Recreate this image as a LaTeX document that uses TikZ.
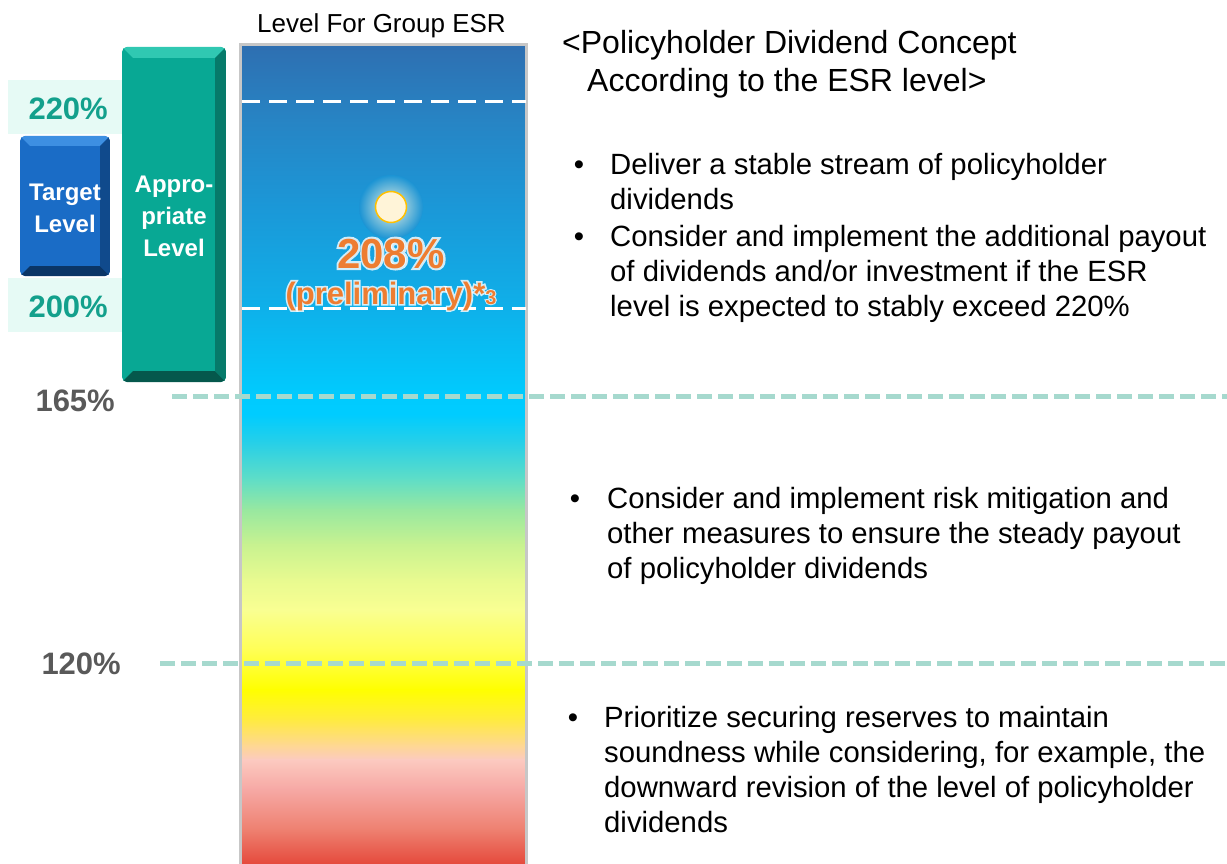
\documentclass[tikz,border=0pt]{standalone}
\usepackage{fontspec}
\setmainfont{Liberation Sans}
\newfontface\glowface[FakeBold=10]{Liberation Sans Bold}
\usetikzlibrary{calc}
\definecolor{bandc}{HTML}{E6FAF5}
\definecolor{tealtxt}{HTML}{13A08C}
\definecolor{greytxt}{HTML}{595959}
\definecolor{dashteal}{HTML}{A6D9CE}
\definecolor{orng}{HTML}{ED7D31}
\definecolor{sunfill}{HTML}{FFF4D8}
\definecolor{sunedge}{HTML}{FFC000}
\definecolor{glowin}{HTML}{EEF3E2}
\definecolor{glowout}{HTML}{1C94D4}
\definecolor{bmain}{HTML}{1A6CC6}
\definecolor{btop}{HTML}{3D8FE2}
\definecolor{bbot}{HTML}{0A3566}
\definecolor{bright}{HTML}{104A8C}
\definecolor{tmain}{HTML}{08A894}
\definecolor{ttop}{HTML}{30C8B2}
\definecolor{tbot}{HTML}{05584C}
\definecolor{tright}{HTML}{067A6A}
\definecolor{g01}{HTML}{2E6FB1}
\definecolor{g02}{HTML}{2784C4}
\definecolor{g03}{HTML}{1C96D6}
\definecolor{g04}{HTML}{10AEE8}
\definecolor{g05}{HTML}{00CBFE}
\definecolor{g06}{HTML}{00CCFF}
\definecolor{g07}{HTML}{2AD0E6}
\definecolor{g08}{HTML}{60DEC6}
\definecolor{g09}{HTML}{98E8A0}
\definecolor{g10}{HTML}{C8F290}
\definecolor{g11}{HTML}{E8FA90}
\definecolor{g12}{HTML}{F9FF92}
\definecolor{g13}{HTML}{FFFF55}
\definecolor{g14}{HTML}{FFFF00}
\definecolor{g15}{HTML}{FFEB40}
\definecolor{g16}{HTML}{FED890}
\definecolor{g17}{HTML}{FCCAC0}
\definecolor{g18}{HTML}{F6A8A4}
\definecolor{g19}{HTML}{EE8070}
\definecolor{g20}{HTML}{E54A3C}
\newcommand{\bevelbox}[9]{%
  \begin{scope}
    \clip[rounded corners=5] (#1,#2) rectangle (#3,#4);
    \fill[#6] (#1,#2) rectangle (#3,#4);
    \fill[#7] (#1,#2) -- (#3,#2) -- ({#3-#5},{#2+#5}) -- ({#1+#5},{#2+#5}) -- cycle;
    \fill[#8] (#1,#4) -- (#3,#4) -- ({#3-#5},{#4-#5}) -- ({#1+#5},{#4-#5}) -- cycle;
    \fill[#9] (#3,#2) -- (#3,#4) -- ({#3-#5},{#4-#5}) -- ({#3-#5},{#2+#5}) -- cycle;
  \end{scope}}
\newcommand{\gradseg}[4]{\shade[top color=#3, bottom color=#4] (242,#1) rectangle (526,#2);}
\tikzset{
  body/.style={font=\fontsize{29.3}{35}\selectfont, anchor=base west, inner sep=0pt},
  head/.style={font=\fontsize{32}{38}\selectfont, anchor=base west, inner sep=0pt},
  bul/.style={font=\fontsize{29.3}{35}\selectfont, anchor=base, inner sep=0pt},
  pct/.style={font=\fontsize{31}{35}\selectfont\bfseries, anchor=base east, inner sep=0pt},
  boxtxt/.style={font=\fontsize{24}{32}\selectfont\bfseries, text=white, align=center, inner sep=0pt},
  tdash/.style={dashteal, line width=5pt, dash pattern=on 15pt off 6pt},
  wdash/.style={white, line width=3pt, dash pattern=on 18pt off 9pt},
}
\begin{document}
\begin{tikzpicture}[x=1pt,y=-1pt]
\useasboundingbox (0,0) rectangle (1227,864);
% light bands behind the percentages
\fill[bandc] (8,80) rectangle (124,134);
\fill[bandc] (8,278) rectangle (124,332);
% beveled boxes
\bevelbox{20}{136}{110}{276}{10}{bmain}{btop}{bbot}{bright}
\bevelbox{122}{47}{226}{382}{11}{tmain}{ttop}{tbot}{tright}
\node[boxtxt] (target) at (65,208) {Target\\Level};
\node[boxtxt] (approp) at (174,216) {Appro-\\priate\\Level};
% percentages
\node[pct, text=tealtxt] (p220) at (108,120) {220\%};
\node[pct, text=tealtxt] (p200) at (108,317) {200\%};
\node[pct, text=greytxt] (p165) at (115,411) {165\%};
\node[pct, text=greytxt] (p120) at (121,674) {120\%};
% gradient bar
\gradseg{45}{120}{g01}{g02}
\gradseg{119.5}{200}{g02}{g03}
\gradseg{199.5}{300}{g03}{g04}
\gradseg{299.5}{395}{g04}{g05}
\gradseg{394.5}{415}{g05}{g06}
\gradseg{414.5}{445}{g06}{g07}
\gradseg{444.5}{480}{g07}{g08}
\gradseg{479.5}{510}{g08}{g09}
\gradseg{509.5}{545}{g09}{g10}
\gradseg{544.5}{580}{g10}{g11}
\gradseg{579.5}{610}{g11}{g12}
\gradseg{609.5}{650}{g12}{g13}
\gradseg{649.5}{690}{g13}{g14}
\gradseg{689.5}{720}{g14}{g15}
\gradseg{719.5}{745}{g15}{g16}
\gradseg{744.5}{760}{g16}{g17}
\gradseg{759.5}{790}{g17}{g18}
\gradseg{789.5}{830}{g18}{g19}
\gradseg{829.5}{864}{g19}{g20}
\draw[black!22, line width=3pt] (240.5,870) -- (240.5,44.5) -- (526.5,44.5) -- (526.5,870);
\node[font=\fontsize{26}{30}\selectfont, anchor=base west, inner sep=0pt] (bartitle) at (257,33) {Level For Group ESR};
% white dashed lines
\draw[wdash] (242,102) -- (526,102);
\draw[wdash] (242,308) -- (526,308);
% sun
\shade[inner color=glowin, outer color=glowout] (391,207) circle (32);
\draw[fill=sunfill, draw=sunedge, line width=1.5pt] (391,207) circle (15.5);
% 208% with white halo underneath
\node[font=\fontsize{42}{46}\selectfont\glowface, text=white, opacity=0.8, anchor=base, inner sep=0pt] (valglow) at (391,268) {208\%};
\node[font=\fontsize{31}{34}\selectfont\glowface, text=white, opacity=0.8, anchor=base, inner sep=0pt] (prelimglow) at (391,304) {(preliminary)*{\fontsize{20}{20}\selectfont 3}};
\node[font=\fontsize{42}{46}\selectfont\bfseries, text=orng, anchor=base, inner sep=0pt] (val) at (391,268) {208\%};
\node[font=\fontsize{31}{34}\selectfont\bfseries, text=orng, anchor=base, inner sep=0pt] (prelim) at (391,304) {(preliminary)*{\fontsize{20}{20}\selectfont 3}};
% teal dashed lines
\draw[tdash] (172,396) -- (1227,396);
\draw[tdash] (160,663) -- (1227,663);
% right-hand text
\node[head] (h1) at (562,54) {<Policyholder Dividend Concept};
\node[head] (h2) at (587,92) {According to the ESR level>};
\node[bul] (u1) at (579,175) {•};
\node[body] (a1) at (610,175) {Deliver a stable stream of policyholder};
\node[body] (a2) at (610,210) {dividends};
\node[bul] (u2) at (579,247) {•};
\node[body] (a3) at (610,247) {Consider and implement the additional payout};
\node[body] (a4) at (610,281) {of dividends and/or investment if the ESR};
\node[body] (a5) at (610,316) {level is expected to stably exceed 220\%};
\node[bul] (u3) at (575,508) {•};
\node[body] (b1) at (607,508) {Consider and implement risk mitigation and};
\node[body] (b2) at (607,543) {other measures to ensure the steady payout};
\node[body] (b3) at (607,578) {of policyholder dividends};
\node[bul] (u4) at (573,727) {•};
\node[body] (c1) at (604,727) {Prioritize securing reserves to maintain};
\node[body] (c2) at (604,762) {soundness while considering, for example, the};
\node[body] (c3) at (604,797) {downward revision of the level of policyholder};
\node[body] (c4) at (604,832) {dividends};
\end{tikzpicture}
\end{document}
